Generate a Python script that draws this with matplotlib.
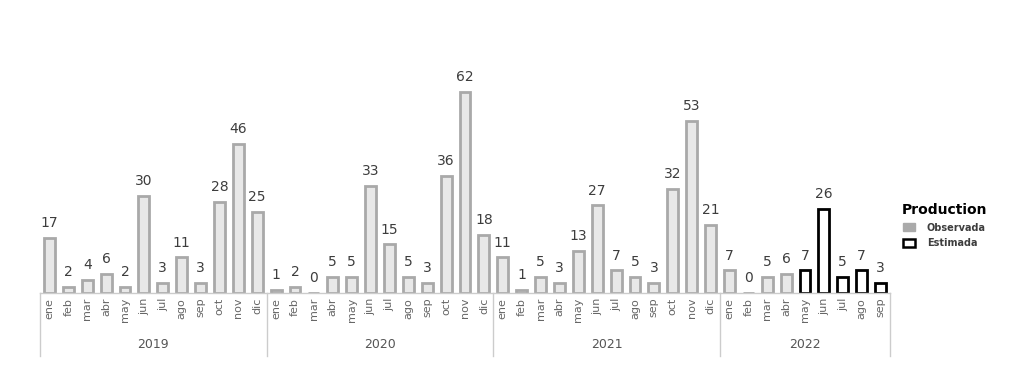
import matplotlib.pyplot as plt
from matplotlib.patches import Patch

years = ["2019", "2020", "2021", "2022"]
months = ["ene", "feb", "mar", "abr", "may", "jun", "jul", "ago", "sep", "oct", "nov", "dic"]

obs_2019 = [17, 2, 4, 6, 2, 30, 3, 11, 3, 28, 46, 25]
obs_2020 = [1, 2, 0, 5, 5, 33, 15, 5, 3, 36, 62, 18]
obs_2021 = [11, 1, 5, 3, 13, 27, 7, 5, 3, 32, 53, 21]
obs_2022 = [7, 0, 5, 6]
est_2022 = [7, 26, 5, 7, 3]

observed = obs_2019 + obs_2020 + obs_2021 + obs_2022
estimated = est_2022
labels = months * 3 + months[:9]

TXT = "#3d3d3d"

fig = plt.figure(figsize=(10.24, 3.76), dpi=100)
ax = fig.add_axes([40 / 1024, 83 / 376, 850 / 1024, 253 / 376])

n_obs = len(observed)
x_obs = list(range(n_obs))
x_est = list(range(n_obs, n_obs + len(estimated)))

ax.bar(x_obs, observed, width=0.58, color="#e8e8e8", edgecolor="#a9a9a9", linewidth=2)
ax.bar(x_est, estimated, width=0.58, color="white", edgecolor="black", linewidth=2)

for x, v in zip(x_obs + x_est, observed + estimated):
    ax.text(x, v + 2.4, str(v), ha="center", va="bottom", fontsize=10, color=TXT)

ax.set_xlim(-0.5, 44.5)
ax.set_ylim(0, 78)
ax.axis("off")

# baseline and year separators
ax.plot([-0.5, 44.5], [0, 0], color="#cccccc", lw=1, clip_on=False)
for sx in [-0.5, 11.5, 23.5, 35.5, 44.5]:
    ax.plot([sx, sx], [0, -19.5], color="#cccccc", lw=1, clip_on=False)

for i, lab in enumerate(labels):
    ax.text(i, -1.5, lab, rotation=90, ha="center", va="top", fontsize=8, color="#666666")

year_centers = [5.5, 17.5, 29.5, 40]
for xc, yr in zip(year_centers, years):
    ax.text(xc, -16, yr, ha="center", va="center", fontsize=9, color="#555555")

handles = [Patch(facecolor="#aaaaaa", edgecolor="#aaaaaa", label="Observada"),
           Patch(facecolor="white", edgecolor="black", linewidth=1.8, label="Estimada")]
leg = fig.legend(handles=handles, title="Production", loc="upper left",
                 bbox_to_anchor=(893 / 1024, 1 - 194 / 376), frameon=False,
                 fontsize=7, title_fontsize=10, handlelength=1.2, handleheight=0.9,
                 labelspacing=0.6, handletextpad=1.2)
leg.get_title().set_fontweight("bold")
for t in leg.get_texts():
    t.set_color(TXT)
    t.set_fontweight("bold")

fig.savefig("out.png", dpi=100, facecolor="white")
